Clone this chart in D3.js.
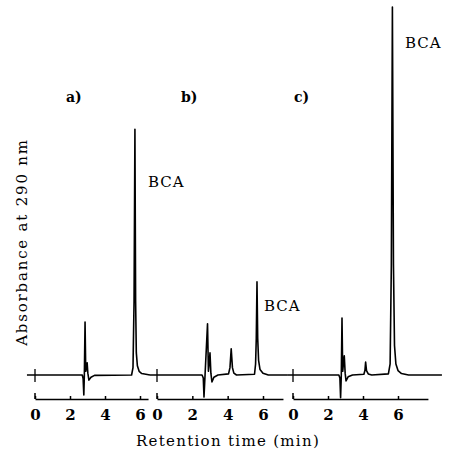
<!DOCTYPE html>
<html><head><meta charset="utf-8">
<script src="https://cdn.jsdelivr.net/npm/d3@7"></script>
<style>
html,body{margin:0;padding:0;background:#fff;}
svg{display:block;}
text{font-family:"DejaVu Serif","Liberation Serif",serif;fill:#000;}
</style></head>
<body>
<script>
// ---- data ----
const panelNames = ["a)", "b)", "c)"];
const tickValues = [0, 2, 4, 6];
const axisEnds = [6.46, 7.13, 7.71];          // min, end of each time axis
const injectionTimes = [0, 0, 0];             // min
// panel a trace
const timeA = [-0.46, 2.70, 2.75, 2.79, 2.82, 2.86, 2.90, 2.94, 2.98, 3.02, 3.08, 3.20, 3.40, 5.52, 5.60, 5.66, 5.71, 5.75, 5.79, 5.85, 5.95, 6.10, 6.57];
const signalA = [0, 0, -1, -5.4, 0, 14.4, 1, 2, 3.3, 0.5, -1.4, -0.6, -0.1, 0, 2, 20, 66.8, 20, 6, 2.5, 1, 0.4, 0];
// panel b trace
const timeB = [-0.40, 2.55, 2.62, 2.66, 2.72, 2.86, 2.91, 2.95, 3.00, 3.05, 3.11, 3.22, 3.45, 4.05, 4.13, 4.20, 4.27, 4.35, 4.50, 5.52, 5.58, 5.62, 5.66, 5.70, 5.75, 5.83, 6.00, 6.30, 7.41];
const signalB = [0, 0, -0.8, -6, 0, 13.9, 1, 3, 6, 0.5, -1.9, -0.6, 0, 0.3, 2, 7.1, 2, 0.5, 0, 0.2, 3, 10, 25.3, 10, 4, 1.5, 0.5, 0, 0];
// panel c trace
const timeC = [-0.29, 2.62, 2.68, 2.72, 2.76, 2.80, 2.84, 2.88, 2.93, 2.98, 3.03, 3.15, 3.40, 4.05, 4.11, 4.15, 4.20, 4.30, 4.50, 5.45, 5.55, 5.62, 5.68, 5.74, 5.80, 5.88, 6.00, 6.20, 6.60, 8.51];
const signalC = [0, 0, -0.8, -6.2, 0, 15.5, 1, 3, 5.2, 0.5, -1.6, -0.5, 0, 0.2, 1.2, 3.5, 1.2, 0.3, 0, 0.3, 3, 30, 100, 30, 8, 3, 1.2, 0.4, 0, 0];
const peakLabel = "BCA";
const xTitle = "Retention time (min)";
const yTitle = "Absorbance at 290 nm";

// ---- layout ----
const W = 452, H = 453;
const svg = d3.select("body").append("svg").attr("width", W).attr("height", H);

const y = d3.scaleLinear().domain([0, 100]).range([375, 7]);
const xRanges = [[35, 140], [157, 263], [293, 398]];
const axisY = 399;
const traces = [[timeA, signalA], [timeB, signalB], [timeC, signalC]];
const labelPos = [[66, 102], [181, 102], [294, 102]];
const bcaPos = [[148, 187], [264, 311], [405, 48]];

const line = d3.line();

traces.forEach((tr, i) => {
  const x = d3.scaleLinear().domain([0, 6]).range(xRanges[i]);
  const pts = tr[0].map((t, k) => [x(t), y(tr[1][k])]);
  svg.append("path").attr("d", line(pts))
    .attr("fill", "none").attr("stroke", "#000").attr("stroke-width", 1.6)
    .attr("stroke-linejoin", "round");

  // injection mark
  svg.append("line")
    .attr("x1", x(injectionTimes[i])).attr("x2", x(injectionTimes[i]))
    .attr("y1", y(0) - 6).attr("y2", y(0) + 7)
    .attr("stroke", "#000").attr("stroke-width", 1.3);

  // time axis
  const xa = d3.scaleLinear().domain([0, axisEnds[i]]).range([x(0), x(axisEnds[i])]);
  const g = svg.append("g").attr("transform", `translate(0,${axisY})`)
    .call(d3.axisBottom(xa).tickValues(tickValues).tickFormat(d3.format("d"))
      .tickSizeInner(-3).tickSizeOuter(0).tickPadding(10));
  g.selectAll("path,line").attr("stroke", "#000").attr("stroke-width", 1.5);
  g.selectAll("text").attr("font-size", 15).attr("font-weight", "bold")
    .attr("font-family", "DejaVu Serif, serif");
  g.append("line").attr("x1", x(0)).attr("x2", x(0)).attr("y1", -6).attr("y2", 0)
    .attr("stroke", "#000").attr("stroke-width", 1.5);

  svg.append("text").attr("x", labelPos[i][0]).attr("y", labelPos[i][1])
    .attr("font-size", 14).attr("font-weight", "bold").text(panelNames[i]);
  svg.append("text").attr("x", bcaPos[i][0]).attr("y", bcaPos[i][1])
    .attr("font-size", 15).attr("letter-spacing", 1).text(peakLabel);
});

svg.append("text").attr("x", 228).attr("y", 446).attr("text-anchor", "middle")
  .attr("font-size", 15).attr("letter-spacing", 1.3).text(xTitle);
svg.append("text").attr("transform", "translate(27,242) rotate(-90)")
  .attr("text-anchor", "middle").attr("font-size", 15).attr("letter-spacing", 1.8).text(yTitle);
</script>
</body></html>
